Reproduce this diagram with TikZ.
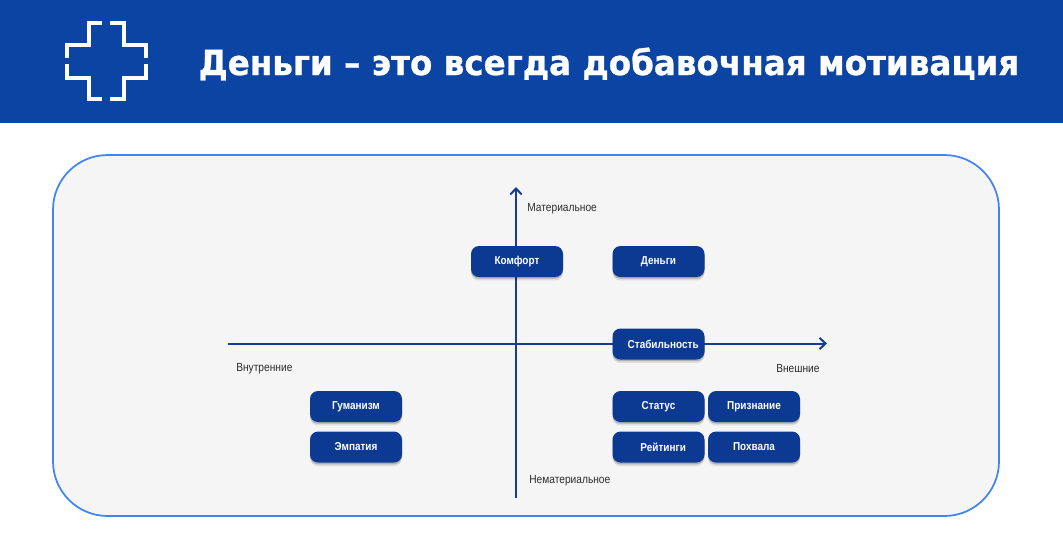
\documentclass[tikz,border=0pt]{standalone}
\usepackage{fontspec}
\setmainfont{Liberation Sans}
\newfontfamily\titlefont[FakeStretch=0.94,BoldFeatures={FakeBold=0.8}]{DejaVu Sans}
\newfontfamily\labelfont[FakeStretch=0.87]{Liberation Sans}
\usepackage{xcolor}
\usetikzlibrary{positioning,shadows,arrows.meta}
\definecolor{headblue}{RGB}{12,68,163}
\definecolor{boxblue}{RGB}{12,58,146}
\definecolor{axisblue}{RGB}{22,62,144}
\definecolor{panelline}{RGB}{66,133,240}
\definecolor{panelbg}{RGB}{245,245,245}
\definecolor{labelgray}{RGB}{45,45,45}
\begin{document}
\begin{tikzpicture}[x=0.75pt, y=-0.75pt,
  card/.style={fill=boxblue, text=white, rounded corners=6pt, minimum width=69pt, minimum height=23.25pt, inner sep=0pt,
    font=\labelfont\fontsize{8.6}{10}\selectfont\bfseries,
    drop shadow={shadow xshift=0pt, shadow yshift=-2.6pt, opacity=0.1, fill=black},
    drop shadow={shadow xshift=0pt, shadow yshift=-1.3pt, opacity=0.2, fill=black}},
  axislabel/.style={text=labelgray, inner sep=0pt, font=\labelfont\fontsize{8.8}{10}\selectfont},
  axis/.style={draw=axisblue, line width=1.5pt, -{Straight Barb[length=4.5pt, width=8.5pt, line width=1.5pt]}},
  iconline/.style={draw=white, line width=3pt, miter limit=10}]
\useasboundingbox (0,0) rectangle (1063,537);
\fill[white] (0,0) rectangle (1063,537);
\fill[headblue] (0,0) rectangle (1063,123);
\node[text=white, font=\titlefont\fontsize{26}{30}\selectfont\bfseries] (title) at (609,64) {Деньги – это всегда добавочная мотивация};
% cross icon
\draw[iconline] (102,23) -- (88.7,23) -- (88.7,44.5) -- (67,44.5) -- (67,58);
\draw[iconline] (110,23) -- (124,23) -- (124,44.5) -- (145.5,44.5) -- (145.5,58);
\draw[iconline] (67,64) -- (67,77.7) -- (88.7,77.7) -- (88.7,99.3) -- (102,99.3);
\draw[iconline] (145.5,64) -- (145.5,77.7) -- (124,77.7) -- (124,99.3) -- (110,99.3);
% panel
\draw[draw=panelline, fill=panelbg, line width=1.3pt, rounded corners=41pt] (53,155) rectangle (999,516);
% axes
\coordinate (left) at (228,343.5);
\coordinate (right) at (827,343.5);
\coordinate (bottom) at (516,498);
\coordinate (top) at (516,187);
\draw[axis] (left) -- (right);
\draw[axis] (bottom) -- (top);
% cards
\node[card] (comfort) at (517,261.5) {\raisebox{-0.7pt}{Комфорт}};
\node[card] (money) at (658.5,261.5) {\raisebox{-0.7pt}{Деньги}};
\node[card] (stable) at (658.5,344) {\hspace{7pt}Стабильность};
\node[card] (status) at (658.5,406.5) {\raisebox{-0.7pt}{Статус}};
\node[card, right=2.25pt of status] (praise) {\raisebox{-0.7pt}{Признание}};
\node[card, below=6.75pt of status] (rating) {\hspace{7pt}Рейтинги};
\node[card, below=6.75pt of praise] (laud) {\raisebox{-0.7pt}{Похвала}};
\node[card] (human) at (356,406.5) {\raisebox{-0.7pt}{Гуманизм}};
\node[card, below=6.75pt of human] (empathy) {\raisebox{-0.7pt}{Эмпатия}};
% labels
\node[axislabel, anchor=west] (material) at (527,209) {Материальное};
\node[axislabel, anchor=west] (inner) at (236,369) {Внутренние};
\node[axislabel, anchor=west] (outer) at (776,369) {Внешние};
\node[axislabel, anchor=west] (nonmaterial) at (529,481) {Нематериальное};
\end{tikzpicture}
\end{document}
